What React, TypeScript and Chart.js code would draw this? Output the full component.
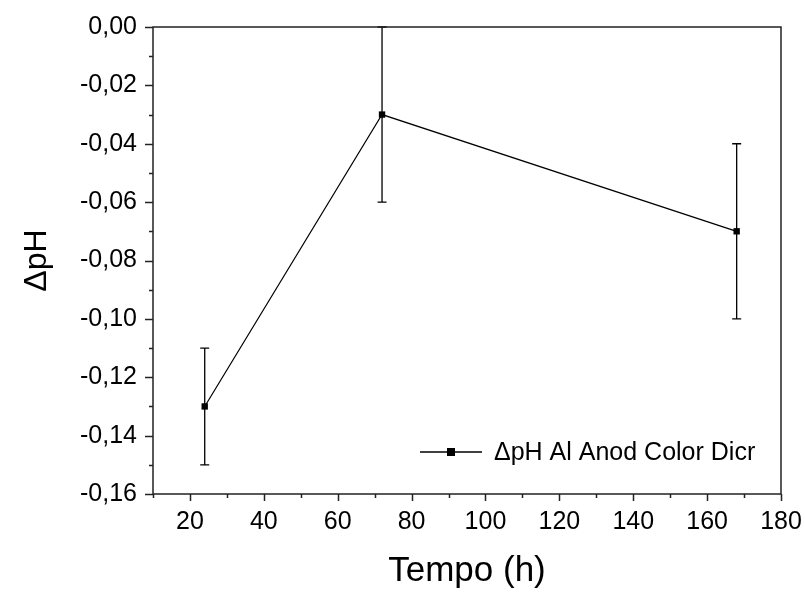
import React, { useEffect, useRef } from "react";
import { Chart, registerables } from "chart.js";

Chart.register(...registerables);

const timeHours = [24, 72, 168];
const deltaPH = [-0.13, -0.03, -0.07];
const errorPH = [0.02, 0.03, 0.03];
const xTickValues = [20, 40, 60, 80, 100, 120, 140, 160, 180];
const xMinorValues = [10, 30, 50, 70, 90, 110, 130, 150, 170];
const yTickValues = [0, -0.02, -0.04, -0.06, -0.08, -0.1, -0.12, -0.14, -0.16];
const yMinorValues = [-0.01, -0.03, -0.05, -0.07, -0.09, -0.11, -0.13, -0.15];
const seriesLabel = "ΔpH Al Anod Color Dicr";
const xTitle = "Tempo (h)";
const yTitle = "ΔpH";

const FONT = "'Liberation Sans', Arial, sans-serif";

const decorPlugin = {
  id: "originDecor",
  beforeDatasetsDraw(chart: any) {
    const ctx = chart.ctx;
    const xs = chart.scales.x;
    const ys = chart.scales.y;
    ctx.save();
    ctx.strokeStyle = "#000";
    ctx.lineWidth = 1.3;
    timeHours.forEach((t, i) => {
      const px = xs.getPixelForValue(t);
      const y1 = ys.getPixelForValue(deltaPH[i] + errorPH[i]);
      const y2 = ys.getPixelForValue(deltaPH[i] - errorPH[i]);
      ctx.beginPath();
      ctx.moveTo(px, y1);
      ctx.lineTo(px, y2);
      ctx.moveTo(px - 4.5, y1);
      ctx.lineTo(px + 4.5, y1);
      ctx.moveTo(px - 4.5, y2);
      ctx.lineTo(px + 4.5, y2);
      ctx.stroke();
    });
    ctx.restore();
  },
  afterDraw(chart: any) {
    const ctx = chart.ctx;
    const xs = chart.scales.x;
    const ys = chart.scales.y;
    const { left, right, top, bottom } = chart.chartArea;
    ctx.save();
    ctx.strokeStyle = "#222";
    ctx.lineWidth = 1.5;
    ctx.strokeRect(left, top, right - left, bottom - top);
    ctx.beginPath();
    xTickValues.forEach((v) => {
      const p = Math.round(xs.getPixelForValue(v)) + 0.5;
      ctx.moveTo(p, bottom);
      ctx.lineTo(p, bottom + 7);
    });
    xMinorValues.forEach((v) => {
      const p = Math.round(xs.getPixelForValue(v)) + 0.5;
      ctx.moveTo(p, bottom);
      ctx.lineTo(p, bottom + 4);
    });
    yTickValues.forEach((v) => {
      const p = Math.round(ys.getPixelForValue(v)) + 0.5;
      ctx.moveTo(left, p);
      ctx.lineTo(left - 8, p);
    });
    yMinorValues.forEach((v) => {
      const p = Math.round(ys.getPixelForValue(v)) + 0.5;
      ctx.moveTo(left, p);
      ctx.lineTo(left - 4, p);
    });
    ctx.stroke();

    // legend
    const ly = bottom - 42;
    const lx1 = right - 361;
    const lx2 = right - 299;
    ctx.strokeStyle = "#000";
    ctx.lineWidth = 1.3;
    ctx.beginPath();
    ctx.moveTo(lx1, ly);
    ctx.lineTo(lx2, ly);
    ctx.stroke();
    ctx.fillStyle = "#000";
    ctx.fillRect((lx1 + lx2) / 2 - 4, ly - 4, 8, 8);
    ctx.font = `25px ${FONT}`;
    ctx.textBaseline = "middle";
    ctx.textAlign = "left";
    ctx.fillText(seriesLabel, right - 287, ly + 1);
    ctx.restore();
  },
};

export default function App() {
  const canvasRef = useRef<HTMLCanvasElement | null>(null);

  useEffect(() => {
    if (!canvasRef.current) return;
    const fmt = (v: number) =>
      Math.abs(v) < 1e-9 ? "0,00" : v.toFixed(2).replace(".", ",");
    const chart = new Chart(canvasRef.current, {
      type: "line",
      data: {
        datasets: [
          {
            label: seriesLabel,
            data: timeHours.map((t, i) => ({ x: t, y: deltaPH[i] })),
            borderColor: "#000",
            backgroundColor: "#000",
            borderWidth: 1.2,
            pointStyle: "rect",
            pointRadius: 4.5,
            pointBorderWidth: 0,
            tension: 0,
          },
        ],
      },
      options: {
        animation: false,
        responsive: false,
        maintainAspectRatio: false,
        layout: { padding: { top: 27, right: 24, left: 0, bottom: 0 } },
        plugins: { legend: { display: false }, tooltip: { enabled: false } },
        scales: {
          x: {
            type: "linear",
            min: 10,
            max: 180,
            afterBuildTicks: (s: any) => {
              s.ticks = xTickValues.map((v) => ({ value: v }));
            },
            afterFit: (s: any) => {
              s.height = 98;
              s.paddingLeft = 0;
              s.paddingRight = 0;
            },
            grid: { display: false, drawTicks: false },
            border: { display: false },
            ticks: {
              color: "#000",
              font: { family: FONT, size: 25 },
              padding: 13,
              maxRotation: 0,
              autoSkip: false,
            },
            title: {
              display: true,
              text: xTitle,
              color: "#000",
              font: { family: FONT, size: 35 },
              padding: { top: 0, bottom: 0 },
            },
          },
          y: {
            type: "linear",
            min: -0.16,
            max: 0,
            afterBuildTicks: (s: any) => {
              s.ticks = yTickValues.map((v) => ({ value: v }));
            },
            afterFit: (s: any) => {
              s.width = 153;
              s.paddingTop = 0;
              s.paddingBottom = 0;
            },
            grid: { display: false, drawTicks: false },
            border: { display: false },
            ticks: {
              color: "#000",
              font: { family: FONT, size: 25 },
              padding: 16,
              autoSkip: false,
              callback: (v: any) => fmt(Number(v)),
            },
            title: {
              display: true,
              text: yTitle,
              color: "#000",
              font: { family: FONT, size: 32 },
              padding: { top: 18, bottom: 0 },
            },
          },
        },
      },
      plugins: [decorPlugin],
    });
    return () => chart.destroy();
  }, []);

  return (
    <div style={{ position: "fixed", left: 0, top: 0, width: 805, height: 592, background: "#fff" }}>
      <canvas ref={canvasRef} width={805} height={592} style={{ width: 805, height: 592 }} />
    </div>
  );
}
